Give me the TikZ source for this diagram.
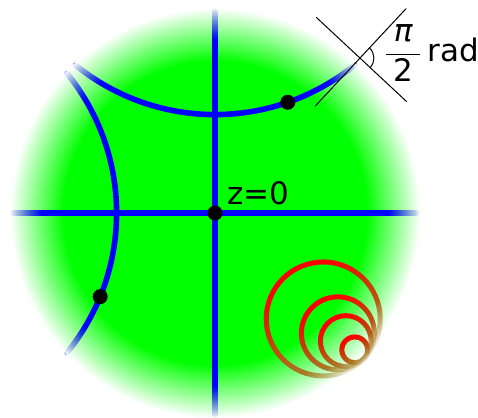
\documentclass[tikz,border=0pt]{standalone}
\usepackage{fontspec}
\setmainfont{DejaVu Sans}
\usetikzlibrary{fadings,calc}

\definecolor{ringbrown}{RGB}{200,55,5}
\definecolor{ringolive}{RGB}{160,140,45}

\pgfdeclareradialshading{diskshade}{\pgfpointorigin}{color(0bp)=(green); color(18.5bp)=(green); color(25bp)=(white); color(50bp)=(white)}
\pgfdeclareverticalshading{ringshade}{100bp}{color(0bp)=(ringolive); color(25bp)=(ringolive); color(40bp)=(ringolive!60!ringbrown); color(55bp)=(ringbrown); color(70bp)=(red); color(100bp)=(red)}
\pgfdeclareverticalshading{ringfadeshade}{100bp}{color(0bp)=(pgftransparent!100); color(25bp)=(pgftransparent!100); color(33bp)=(pgftransparent!40); color(40bp)=(pgftransparent!0); color(100bp)=(pgftransparent!0)}
\pgfdeclarefading{ringfade}{\pgfuseshading{ringfadeshade}}

\begin{document}
\begin{tikzpicture}[x=102.5pt,y=102.5pt,font=\fontsize{15.5}{18}\selectfont,line join=round,line cap=round,
  blueline/.style={blue,line width=2.8pt},
  redring/.style={shading=ringshade,shading angle=30,even odd rule,path fading=ringfade,fading angle=45},
  thinline/.style={line width=0.5pt}]
\useasboundingbox (-1.0488,-1) rectangle (1.2829,1.039);
\coordinate (O) at (0,0);
\coordinate (P) at ($(0,1.56)+(-70.8:1.08)$);
\coordinate (Q) at ($(-1.56,0)+(-22.2:1.08)$);
\coordinate (V) at (46.9:1.035);
\coordinate (T) at (-44.4:1.017);

\shade[shading=diskshade] (O) circle (1);

\draw[blueline] (-0.985,0) -- (0.985,0) (0,-0.985) -- (0,0.985)
  ($(0,1.56)+(-129:1.08)$) arc[start angle=-129,end angle=-51,radius=1.08]
  ($(-1.56,0)+(-39:1.08)$) arc[start angle=-39,end angle=39,radius=1.08];

% fade the lines out towards the rim
\foreach \k [evaluate=\k as \a using {1/(17-\k)}, evaluate=\k as \rk using {0.84+0.01*\k}] in {1,...,16} {
  \begin{scope}[even odd rule]
    \clip (O) circle (1) (O) circle (\rk);
    \shade[shading=diskshade,opacity=\a] (O) circle (1);
  \end{scope}
}

\foreach \r in {0.278,0.178,0.124,0.063}
  \shade[redring] ($(T)+(135.6:\r)$) circle ({\r+0.0122}) ($(T)+(135.6:\r)$) circle ({\r-0.0122});

\foreach \p in {O,P,Q}
  \fill (\p) circle (0.0366);

\draw[thinline] ($(V)+(227:0.32)$) -- ($(V)+(47:0.33)$);
\draw[thinline] ($(V)+(137:0.29)$) -- ($(V)+(-43:0.31)$);
\draw[thinline] ($(V)+(47:0.068)$) arc[start angle=47,end angle=-43,radius=0.068];

\path (O) node[above right,xshift=2.5pt,yshift=0.5pt] {z=0};
\path (V) node[right,xshift=8.5pt,yshift=2.5pt] {$\displaystyle\frac{\mbox{\itshape π}}{\mbox{\hspace{3.5pt}2\hspace{3.5pt}}}$\,rad};
\end{tikzpicture}
\end{document}
